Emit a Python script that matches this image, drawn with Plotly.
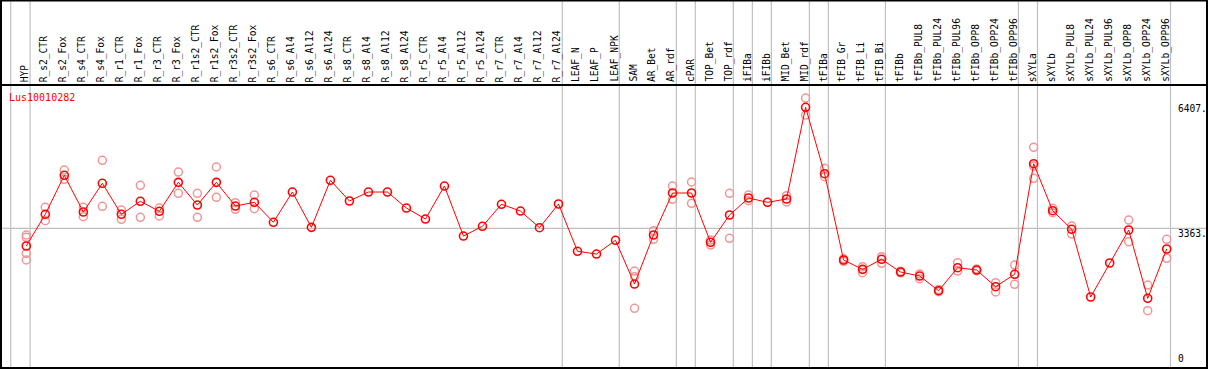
import plotly.graph_objects as go

categories = ["HYP", "R_s2_CTR", "R_s2_Fox", "R_s4_CTR", "R_s4_Fox", "R_r1_CTR", "R_r1_Fox",
              "R_r3_CTR", "R_r3_Fox", "R_r1s2_CTR", "R_r1s2_Fox", "R_r3s2_CTR", "R_r3s2_Fox",
              "R_s6_CTR", "R_s6_Al4", "R_s6_Al12", "R_s6_Al24", "R_s8_CTR", "R_s8_Al4", "R_s8_Al12",
              "R_s8_Al24", "R_r5_CTR", "R_r5_Al4", "R_r5_Al12", "R_r5_Al24", "R_r7_CTR", "R_r7_Al4",
              "R_r7_Al12", "R_r7_Al24", "LEAF_N", "LEAF_P", "LEAF_NPK", "SAM", "AR_Bet", "AR_rdf",
              "cPAR", "TOP_Bet", "TOP_rdf", "iFIBa", "iFIBb", "MID_Bet", "MID_rdf", "tFIBa",
              "tFIB_Gr", "tFIB_Li", "tFIB_Bi", "tFIBb", "tFIBb_PUL8", "tFIBb_PUL24", "tFIBb_PUL96",
              "tFIBb_OPP8", "tFIBb_OPP24", "tFIBb_OPP96", "sXYLa", "sXYLb", "sXYLb_PUL8",
              "sXYLb_PUL24", "sXYLb_PUL96", "sXYLb_OPP8", "sXYLb_OPP24", "sXYLb_OPP96"]

mean_values = [2932, 3704, 4654, 3760, 4459, 3704, 4021, 3777, 4483, 3930, 4483, 3906, 3996,
               3509, 4247, 3387, 4532, 4028, 4247, 4247, 3857, 3589, 4393, 3175, 3412, 3948,
               3784, 3378, 3955, 2803, 2737, 3071, 2006, 3200, 4223, 4223, 3022, 3687, 4101,
               3996, 4077, 6310, 4693, 2591, 2364, 2608, 2299, 2201, 1843, 2403, 2347, 1941,
               2243, 4936, 3792, 3339, 1690, 2518, 3322, 1658, 2859]

rep_categories = ["HYP", "HYP", "HYP", "HYP", "R_s2_CTR", "R_s2_CTR", "R_s2_Fox", "R_s2_Fox",
                  "R_s4_CTR", "R_s4_CTR", "R_s4_Fox", "R_s4_Fox", "R_r1_CTR", "R_r1_CTR",
                  "R_r1_Fox", "R_r1_Fox", "R_r3_CTR", "R_r3_CTR", "R_r3_Fox", "R_r3_Fox",
                  "R_r1s2_CTR", "R_r1s2_CTR", "R_r1s2_Fox", "R_r1s2_Fox", "R_r3s2_CTR", "R_r3s2_CTR",
                  "R_r3s2_Fox", "R_r3s2_Fox", "SAM", "SAM", "SAM", "AR_Bet", "AR_Bet",
                  "AR_rdf", "AR_rdf", "cPAR", "cPAR", "TOP_Bet", "TOP_Bet", "TOP_rdf", "TOP_rdf",
                  "iFIBa", "iFIBa", "MID_Bet", "MID_Bet", "MID_rdf", "MID_rdf", "tFIBa", "tFIBa",
                  "tFIB_Gr", "tFIB_Gr", "tFIB_Li", "tFIB_Li", "tFIB_Bi", "tFIB_Bi", "tFIBb", "tFIBb",
                  "tFIBb_PUL8", "tFIBb_PUL8", "tFIBb_PUL24", "tFIBb_PUL24", "tFIBb_PUL96", "tFIBb_PUL96",
                  "tFIBb_OPP8", "tFIBb_OPP8", "tFIBb_OPP24", "tFIBb_OPP24", "tFIBb_OPP96", "tFIBb_OPP96",
                  "sXYLa", "sXYLa", "sXYLa", "sXYLb", "sXYLb", "sXYLb_PUL8", "sXYLb_PUL8",
                  "sXYLb_OPP8", "sXYLb_OPP8", "sXYLb_OPP24", "sXYLb_OPP24", "sXYLb_OPP96", "sXYLb_OPP96"]

rep_values = [3200, 3144, 2754, 2591, 3874, 3548, 4783, 4556,
              3874, 3646, 5019, 3899, 3809, 3582,
              4410, 3631, 3857, 3663, 4734, 4215,
              4215, 3631, 4856, 4118, 3986, 3826,
              4174, 3840, 2323, 2184, 1415, 3305, 3095,
              4393, 4069, 4491, 3972, 3078, 2956, 4215, 3119,
              4174, 4035, 4157, 4004, 6537, 6122, 4824, 4620,
              2560, 2620, 2428, 2282, 2671, 2511, 2280, 2320,
              2250, 2136, 1820, 1870, 2525, 2323,
              2330, 2370, 2038, 1812, 2469, 1999,
              5336, 4581, 4880, 3850, 3743, 3419, 3224,
              3565, 3037, 1982, 1356, 3095, 2632]

# separators after these categories (group boundaries)
separator_after = ["HYP", "R_r7_Al24", "LEAF_NPK", "AR_rdf", "cPAR", "TOP_rdf", "iFIBa", "iFIBb",
                   "MID_rdf", "tFIBa", "tFIB_Bi", "tFIBb_OPP96", "sXYLa", "sXYLb_OPP96"]

y_tick_values = [6407, 3363, 0]
y_tick_labels = ["6407.", "3363.", "0"]
gene_name = "Lus10010282"

W, H = 1209, 370
L, R, T, B = 1, 2, 86, 2
x_range = [-1.331, 62.12]
y_range = [-39, 6829]
plot_h = H - T - B

def xpaper(xd):
    return (xd - x_range[0]) / (x_range[1] - x_range[0])

def ypaper_px(py):
    return (H - B - py) / plot_h

idx = {c: i for i, c in enumerate(categories)}

fig = go.Figure()
fig.add_trace(go.Scatter(
    x=[idx[c] for c in rep_categories], y=rep_values, mode="markers",
    marker=dict(symbol="circle-open", size=8, color="rgb(240,150,150)", line=dict(width=1.5)),
    hoverinfo="skip", showlegend=False))
fig.add_trace(go.Scatter(
    x=list(range(len(categories))), y=mean_values, mode="lines+markers",
    line=dict(color="red", width=1),
    marker=dict(symbol="circle-open", size=8, color="red", line=dict(width=1.6)),
    showlegend=False))

shapes = []
top_p = ypaper_px(0.5)
# vertical separators
xs = [xpaper(-0.82)] + [xpaper(idx[c] + 0.2) for c in separator_after]
for xp in xs:
    shapes.append(dict(type="line", xref="paper", yref="paper", x0=xp, x1=xp, y0=0, y1=top_p,
                       line=dict(color="#c0c0c0", width=1.2), layer="below"))
# horizontal grid at 3363
shapes.append(dict(type="line", xref="paper", yref="y", x0=0, x1=1, y0=y_tick_values[1], y1=y_tick_values[1],
                   line=dict(color="#c0c0c0", width=1.2), layer="below"))
# borders
blk = dict(color="black", width=2)
shapes.append(dict(type="rect", xref="paper", yref="paper", x0=0, x1=1, y0=0, y1=top_p, line=blk))
shapes.append(dict(type="line", xref="paper", yref="paper", x0=0, x1=1,
                   y0=ypaper_px(85), y1=ypaper_px(85), line=blk))

annotations = []
for i, c in enumerate(categories):
    annotations.append(dict(x=i, xref="x", y=ypaper_px(83), yref="paper", text=c, textangle=-90,
                            showarrow=False, xanchor="center", yanchor="bottom", xshift=-1,
                            font=dict(family="DejaVu Sans Mono", size=9.6, color="black"),
                            borderpad=0))
annotations.append(dict(x=(8 - L) / (W - L - R), xref="paper", y=ypaper_px(91), yref="paper",
                        text=gene_name, showarrow=False, xanchor="left", yanchor="top",
                        font=dict(family="DejaVu Sans Mono", size=10, color="red"), borderpad=0))
for v, t in zip(y_tick_values, y_tick_labels):
    annotations.append(dict(x=(1177 - L) / (W - L - R), xref="paper", y=max(v, 0), yref="y",
                            text=t, showarrow=False, xanchor="left",
                            yanchor="top" if v > 0 else "bottom",
                            yshift=1 if v > 0 else 1,
                            font=dict(family="DejaVu Sans Mono", size=9.6, color="black"), borderpad=0))

fig.update_layout(
    width=W, height=H, margin=dict(l=L, r=R, t=T, b=B, pad=0),
    paper_bgcolor="white", plot_bgcolor="white",
    xaxis=dict(range=x_range, visible=False, fixedrange=True),
    yaxis=dict(range=y_range, visible=False, fixedrange=True),
    shapes=shapes, annotations=annotations, showlegend=False)

fig.write_html("out.html", config={"displayModeBar": False},
               post_script="document.body.style.margin='0';document.body.style.overflow='hidden';")
